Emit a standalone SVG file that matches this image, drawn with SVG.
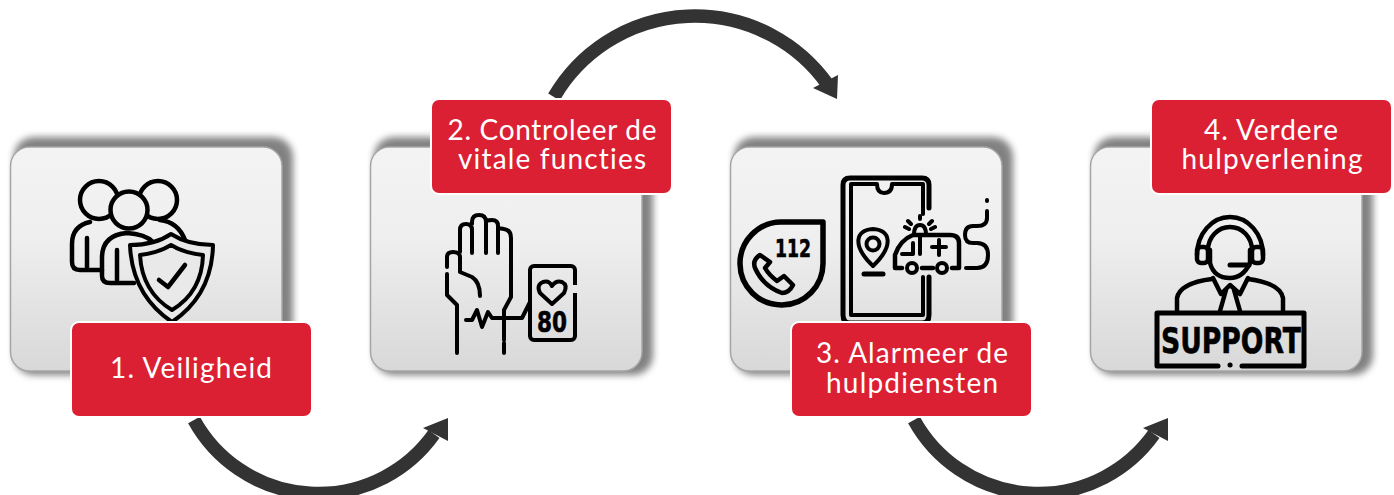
<svg xmlns="http://www.w3.org/2000/svg" width="1394" height="495" viewBox="0 0 1394 495">
<style>
.card{fill:url(#cardGrad);stroke:#a6a6a6;stroke-width:1.5}
.shadow{fill:#4d4d4d;opacity:.7;filter:url(#blur)}
.label{fill:#dc2033;stroke:#fff;stroke-width:2}
.lt{font-family:"Lato","Open Sans",sans-serif;font-weight:400;font-size:28px;fill:#fff;text-anchor:middle;font-variant-ligatures:none}
.ic{fill:none;stroke:#000;stroke-width:4.500;stroke-linecap:round;stroke-linejoin:round}
.bt{font-family:"DejaVu Sans",sans-serif;font-weight:700;fill:#000;stroke:#000;stroke-width:.6}
.arc{fill:none;stroke:#333;stroke-width:13.5}
.head{fill:#333}
</style>
<defs>
<linearGradient id="cardGrad" x1="0" y1="0" x2="0" y2="1"><stop offset="0" stop-color="#f3f3f3"/><stop offset=".4" stop-color="#efefef"/><stop offset="1" stop-color="#d8d8d8"/></linearGradient>
<filter id="blur" x="-10%" y="-10%" width="120%" height="120%"><feGaussianBlur stdDeviation="3.5"/></filter>
<rect id="sh" x="14" y="137" width="279" height="238" rx="20"/>
<rect id="cd" x="10.5" y="147" width="271.5" height="224" rx="19"/>
</defs>

<g id="connectors">
<path class="arc" d="M194 420A142 142 0 0 0 434 434"/>
<path class="head" d="M448 418L423 428L448 441Z"/>
<path class="arc" d="M554 97A163 163 0 0 1 828 85"/>
<path class="head" d="M837 99L813 88L838 75Z"/>
<path class="arc" d="M914 420A142 142 0 0 0 1154 434"/>
<path class="head" d="M1168 418L1143 428L1168 441Z"/>
</g>

<g id="node-1">
<use href="#sh" class="shadow"/><use href="#cd" class="card"/>
<g class="ic">
<circle cx="99" cy="200" r="19"/><circle cx="158" cy="200" r="19"/>
<path d="M90 222Q72 226 72 244V262Q72 270 80 270H102M87 238V267M160 220Q178 222 185 240"/>
<circle cx="129" cy="210" r="18.500" fill="#efefef"/>
<path d="M127 233Q102 235 102 258V276Q102 283 110 283H134M117 250V280M127 233Q145 234 153 242"/>
<path d="M171 234Q155 245 130 245Q132 295 172 322Q212 295 213 245Q188 245 171 234Z" fill="#e9e9e9" stroke-width="4"/>
<path d="M171 245Q158 253 140 255Q142 292 172 310Q202 292 203 255Q184 253 171 245Z" stroke-width="4"/>
<path d="M159 280L168 287L185 265"/>
</g>
<rect class="label" x="71" y="322" width="241" height="95" rx="8"/>
<text class="lt" x="191" y="378" textLength="162">1. Veiligheid</text>
</g>

<g id="node-2">
<use href="#sh" x="360" class="shadow"/><use href="#cd" x="360" class="card"/>
<g class="ic" style="stroke-width:4">
<path d="M457 353V305L447 295V274M447 267V257Q447 252 453 252Q460 252 460 257V272Q460 272 472 277Q480 282 480 296M460 252V230Q460 224 466 224Q472 224 472 230V253M472 224V222Q472 215 479 215Q486 215 486 222V253M486 222Q486 220 492 220Q498 220 498 226V253M498 228Q498 228 504 229Q511 230 511 238V297L504 310V340M504 343V353"/>
<path d="M466 320H472L477 310L482 327L488 312L492 318H522L530 302"/>
<rect x="530" y="266" width="45" height="74" rx="4"/>
<path d="M552 304L540 293Q536 285 543 282Q549 280 552 286Q556 280 562 282Q568 285 564 293Z"/>
</g>
<rect x="573" y="285" width="4" height="8" fill="#e8e8e8"/>
<text class="bt" x="537" y="332" font-size="29" textLength="30" lengthAdjust="spacingAndGlyphs">80</text>
<rect class="label" x="431" y="99" width="241" height="95" rx="8"/>
<text class="lt" x="552" y="140" textLength="209">2. Controleer de</text>
<text class="lt" x="552" y="169" textLength="188">vitale functies</text>
</g>

<g id="node-3">
<use href="#sh" x="720" class="shadow"/><use href="#cd" x="720" class="card"/>
<g class="ic">
<path d="M781 222H823V263A41.500 41.500 0 1 1 781 222Z" style="stroke-width:5.500"/>
<path d="M760 255Q752 260 755 268Q763 286 782 293Q789 293 793 285L784 276L777 281Q769 275 765 268L770 262Z"/>
<path d="M929 208V185Q929 178 922 178H850Q843 178 843 185V315Q843 323 850 323H922Q929 323 929 315V277" style="stroke-width:5"/>
<path d="M923 214V184H892Q892 193 884 193Q877 193 877 184H851V315H923V277" style="stroke-width:4"/>
<path d="M873 266C852 246 855 230 873 229C891 230 894 246 873 266Z" style="stroke-width:4"/>
<circle cx="873" cy="244" r="6.500" style="stroke-width:4"/>
<path d="M864 274H883" style="stroke-width:5"/>
<path d="M902 268H895V255Q900 240 913 235H950Q959 235 959 243V268H952M933 268H922"/>
<circle cx="912" cy="268" r="5" style="stroke-width:4"/><circle cx="942" cy="268" r="5" style="stroke-width:4"/>
<path d="M913 243V254H902M920 235V254M914 235Q914 225 920 225Q926 225 926 235M939 240V255M932 247H946M920 219V216M911 224L908 221M929 224L932 221M905 227L909 229M935 227L931 229" style="stroke-width:4"/>
<path d="M987 200V201M987 211V218Q987 226 977 226H973Q965 226 965 235Q965 243 973 243H977Q988 243 988 255Q988 268 977 268H966" style="stroke-width:4"/>
</g>
<text class="bt" x="775" y="257" font-size="24" textLength="36" lengthAdjust="spacingAndGlyphs">112</text>
<rect class="label" x="791" y="322" width="241" height="95" rx="8"/>
<text class="lt" x="912" y="363" textLength="192">3. Alarmeer de</text>
<text class="lt" x="912" y="393" textLength="172">hulpdiensten</text>
</g>

<g id="node-4">
<use href="#sh" x="1080" class="shadow"/><use href="#cd" x="1080" class="card"/>
<g class="ic">
<path d="M1197 255A33 38 0 0 1 1263 255"/>
<path d="M1208 250A22 23 0 0 1 1252 250"/>
<rect x="1197" y="247" width="11" height="16" rx="4"/><rect x="1252" y="247" width="11" height="16" rx="4"/>
<path d="M1210 250V263Q1214 278 1230 278Q1243 278 1250 263V250"/>
<path d="M1230 265H1249" style="stroke-width:5"/>
<path d="M1213 278L1221 294L1230 285L1240 294L1248 278M1226 290L1220 311M1234 290L1240 311"/>
<path d="M1177 311V298Q1180 283 1212 279M1283 311V298Q1280 283 1248 279"/>
<path d="M1218 366H1157V313H1304V366H1242" style="stroke-width:5"/>
<path d="M1230 365H1230.100" style="stroke-width:5"/>
</g>
<text class="bt" x="1161" y="353" font-size="36" textLength="140" lengthAdjust="spacingAndGlyphs">SUPPORT</text>
<rect class="label" x="1151" y="99" width="241" height="95" rx="8"/>
<text class="lt" x="1271" y="140" textLength="134">4. Verdere</text>
<text class="lt" x="1272" y="169" textLength="181">hulpverlening</text>
</g>
</svg>
